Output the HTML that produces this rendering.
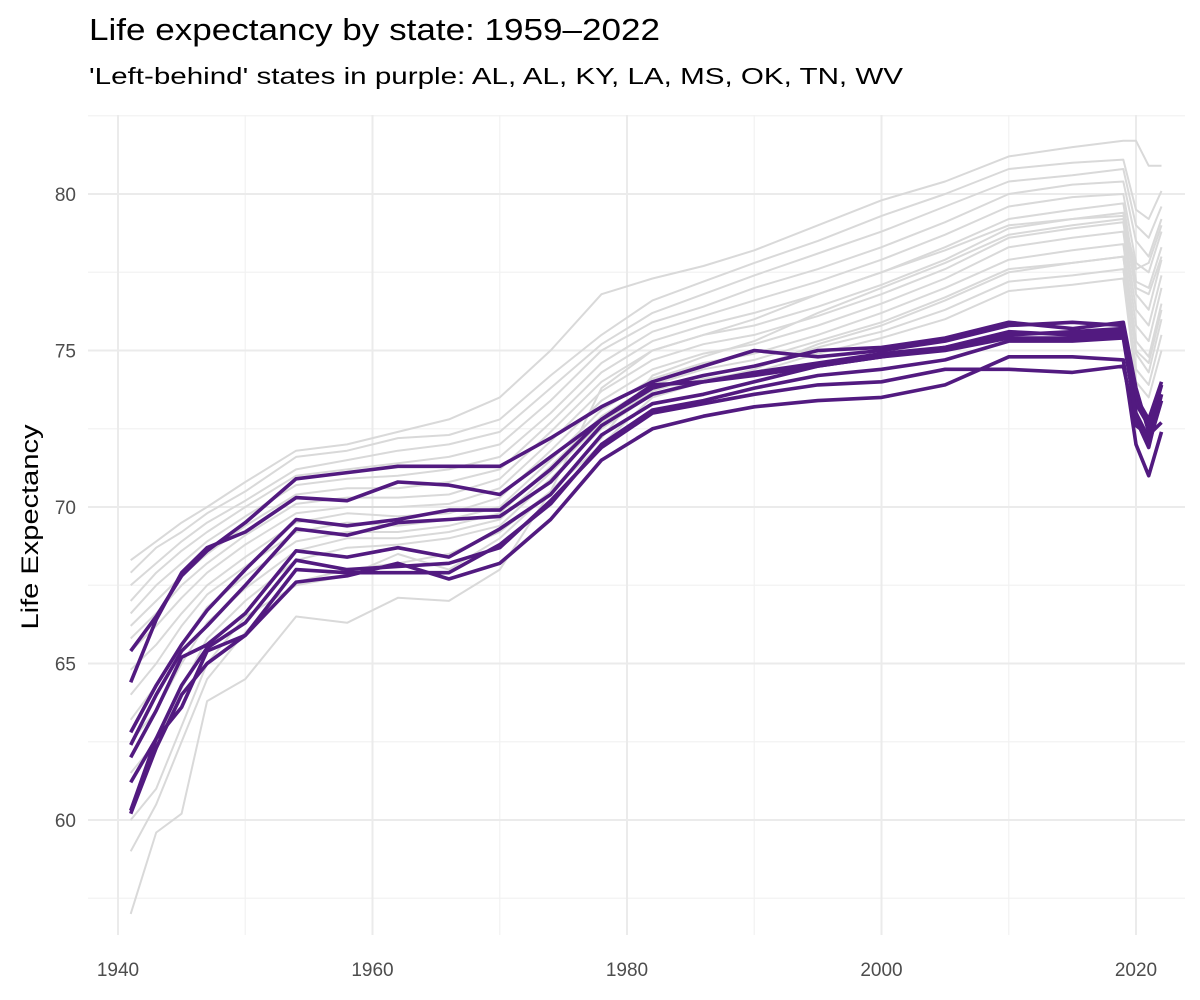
<!DOCTYPE html>
<html><head><meta charset="utf-8">
<style>
html,body{margin:0;padding:0;background:#fff;}
svg{display:block;font-family:"Liberation Sans",Arial,sans-serif;}
</style></head>
<body>
<svg id="chart" width="1200" height="1000" viewBox="0 0 1200 1000">
<text x="89" y="40" font-size="31" textLength="571" lengthAdjust="spacingAndGlyphs" fill="#000">Life expectancy by state: 1959–2022</text>
<text x="89" y="84" font-size="23" textLength="814" lengthAdjust="spacingAndGlyphs" fill="#000">'Left-behind' states in purple: AL, AL, KY, LA, MS, OK, TN, WV</text>
<text transform="translate(38,527) rotate(-90)" text-anchor="middle" font-size="24" textLength="205" lengthAdjust="spacingAndGlyphs" fill="#000">Life Expectancy</text>
<g id="grid"></g>
<g id="gray"></g>
<g id="purple"></g>
<g id="axes"></g>
</svg>
<script>
const years=[1941,1943,1945,1947,1950,1954,1958,1962,1966,1970,1974,1978,1982,1986,1990,1995,2000,2005,2010,2015,2019,2020,2021,2022];
const yTicks=[60,65,70,75,80];
const yMinor=[57.5,62.5,67.5,72.5,77.5,82.5];
const xTicks=[1940,1960,1980,2000,2020];
const xMinor=[1950,1970,1990,2010];
const grayStates=[
[68.3,68.9,69.5,70.0,70.8,71.8,72.0,72.4,72.8,73.5,75.0,76.8,77.3,77.7,78.2,79.0,79.8,80.4,81.2,81.5,81.7,81.7,80.9,80.9],
[67.9,68.7,69.2,69.8,70.5,71.6,71.8,72.2,72.3,72.8,74.2,75.5,76.6,77.2,77.8,78.5,79.3,80.0,80.8,81.0,81.1,79.5,79.2,80.1],
[67.5,68.2,68.9,69.5,70.2,71.2,71.5,71.8,72.0,72.4,73.8,75.2,76.2,76.8,77.4,78.1,78.8,79.6,80.4,80.6,80.8,79.0,78.6,79.6],
[67.0,67.9,68.6,69.2,70.0,71.0,71.2,71.4,71.6,72.0,73.4,75.0,75.9,76.4,77.0,77.6,78.3,79.1,80.0,80.3,80.4,78.5,78.0,79.2],
[66.6,67.5,68.2,68.9,69.7,70.7,70.9,71.0,71.2,71.6,73.0,74.6,75.6,76.1,76.6,77.2,77.9,78.7,79.6,79.9,80.0,77.8,77.5,78.8],
[66.2,67.0,67.8,68.5,69.4,70.4,70.6,70.6,70.8,71.2,72.7,74.3,75.3,75.8,76.2,76.8,77.5,78.3,79.2,79.5,79.7,77.2,77.0,78.3],
[65.8,66.6,67.5,68.2,69.1,70.1,70.3,70.3,70.4,70.9,72.4,74.0,75.0,75.5,75.8,76.4,77.1,77.9,78.9,79.2,79.4,76.8,76.3,77.9],
[65.4,66.2,67.1,67.9,68.8,69.8,70.0,70.0,70.1,70.6,72.1,73.7,74.7,75.2,75.5,76.1,76.8,77.6,78.6,78.9,79.1,76.3,75.8,77.4],
[64.8,65.6,66.6,67.5,68.4,69.5,69.8,69.7,69.8,70.3,71.8,73.4,74.4,74.9,75.2,75.8,76.5,77.3,78.3,78.6,78.8,75.8,75.3,77.0],
[64.0,65.0,66.2,67.2,68.1,69.2,69.5,69.4,69.6,70.0,71.5,73.1,74.1,74.6,74.9,75.5,76.2,77.0,77.9,78.2,78.4,75.3,74.8,76.5],
[63.2,64.3,65.6,66.8,67.8,68.9,69.2,69.2,69.4,69.8,71.3,72.9,73.9,74.4,74.7,75.3,75.9,76.7,77.6,77.8,78.0,74.9,74.3,76.0],
[62.5,63.5,65.0,66.3,67.4,68.6,69.0,69.0,69.2,69.6,71.1,72.7,73.7,74.2,74.5,75.1,75.6,76.3,77.2,77.4,77.6,74.4,73.9,75.5],
[61.5,62.5,64.2,65.8,67.0,68.3,68.7,68.8,69.0,69.4,70.9,72.5,73.6,74.1,74.3,74.9,75.4,76.0,76.9,77.1,77.3,74.0,73.5,75.0],
[59.0,60.5,62.5,64.5,66.0,67.6,68.0,68.2,68.5,69.2,70.5,72.0,73.5,74.0,74.4,75.2,75.8,76.6,77.5,77.8,78.0,75.0,74.6,76.3],
[57.0,59.6,60.2,63.8,64.5,66.5,66.3,67.1,67.0,68.0,70.5,73.8,75.0,75.5,76.0,76.8,77.5,78.2,79.0,79.2,79.3,77.6,77.8,79.0],
[60.0,61.0,63.0,65.0,66.5,67.5,67.8,68.5,68.0,69.0,70.5,72.2,74.2,74.8,75.3,76.2,77.0,77.8,78.7,79.0,79.2,77.0,76.8,78.0]
];
const purpleStates=[
[65.4,66.5,67.8,68.6,69.5,70.9,71.1,71.3,71.3,71.3,72.2,73.2,74.0,74.5,75.0,74.8,75.0,75.3,75.8,75.9,75.8,73.5,72.8,74.0],
[64.4,66.4,67.9,68.7,69.2,70.3,70.2,70.8,70.7,70.4,71.6,72.8,73.8,74.2,74.5,75.0,75.1,75.4,75.9,75.7,75.9,73.8,72.4,73.9],
[62.8,64.3,65.6,66.7,68.0,69.6,69.4,69.6,69.9,69.9,71.2,72.8,73.9,74.0,74.3,74.6,74.9,75.1,75.5,75.6,75.7,73.3,72.6,73.9],
[62.4,64.0,65.4,66.2,67.5,69.3,69.1,69.5,69.6,69.7,70.8,72.6,73.6,74.0,74.2,74.5,74.8,75.0,75.4,75.4,75.5,73.0,72.2,73.6],
[62.0,63.5,65.2,65.6,66.6,68.6,68.4,68.7,68.4,69.3,70.4,72.3,73.3,73.6,74.0,74.5,74.8,75.1,75.6,75.5,75.6,72.8,71.9,73.6],
[61.2,62.6,64.3,65.5,66.3,68.3,68.0,68.1,68.2,68.7,70.2,71.9,73.0,73.3,73.6,73.9,74.0,74.4,74.4,74.3,74.5,72.6,72.3,72.7],
[60.3,62.6,63.6,65.4,65.9,67.6,67.8,68.2,67.7,68.2,69.6,71.5,72.5,72.9,73.2,73.4,73.5,73.9,74.8,74.8,74.7,72.0,71.0,72.4],
[60.2,62.3,64.0,65.0,65.9,68.0,67.9,67.9,67.9,68.8,70.1,72.0,73.1,73.4,73.8,74.2,74.4,74.7,75.3,75.3,75.4,72.9,72.0,73.4]
];
const NS="http://www.w3.org/2000/svg";
const X0=88,X1=1185,Y0=115,Y1=935;
function sx(yr){return 118+(yr-1940)*(1136-118)/80;}
function sy(v){return 194+(80-v)*(820-194)/20;}
function mk(tag,attrs,parent){const e=document.createElementNS(NS,tag);for(const k in attrs)e.setAttribute(k,attrs[k]);parent.appendChild(e);return e;}
const grid=document.getElementById('grid'),axes=document.getElementById('axes');
yMinor.forEach(v=>{const l=mk('line',{x1:X0,x2:X1,y1:sy(v),y2:sy(v),stroke:'#f2f2f2','stroke-width':1.2},grid);

});
xMinor.forEach(v=>{const l=mk('line',{x1:sx(v),x2:sx(v),y1:Y0,y2:Y1,stroke:'#f2f2f2','stroke-width':1.2},grid);

});
yTicks.forEach(v=>{const l=mk('line',{x1:X0,x2:X1,y1:sy(v),y2:sy(v),stroke:'#ebebeb','stroke-width':2},grid);


const t=mk('text',{x:76,y:sy(v)+7,'text-anchor':'end','font-size':19,fill:'#4d4d4d'},axes);t.textContent=v;

});
xTicks.forEach(v=>{const l=mk('line',{x1:sx(v),x2:sx(v),y1:Y0,y2:Y1,stroke:'#ebebeb','stroke-width':2},grid);


const t=mk('text',{x:sx(v),y:976,'text-anchor':'middle','font-size':19,fill:'#4d4d4d'},axes);t.textContent=v;

});
function path(vals){return vals.map((v,i)=>(i?'L':'M')+sx(years[i]).toFixed(1)+','+sy(v).toFixed(1)).join('');}
grayStates.forEach(s=>{const p=mk('path',{d:path(s),fill:'none',stroke:'#d9d9d9','stroke-width':2,'stroke-linejoin':'round'},document.getElementById('gray'));

});
purpleStates.forEach(s=>{const p=mk('path',{d:path(s),fill:'none',stroke:'#521a80','stroke-width':3.6,'stroke-linejoin':'round'},document.getElementById('purple'));

});
</script>
</body></html>
